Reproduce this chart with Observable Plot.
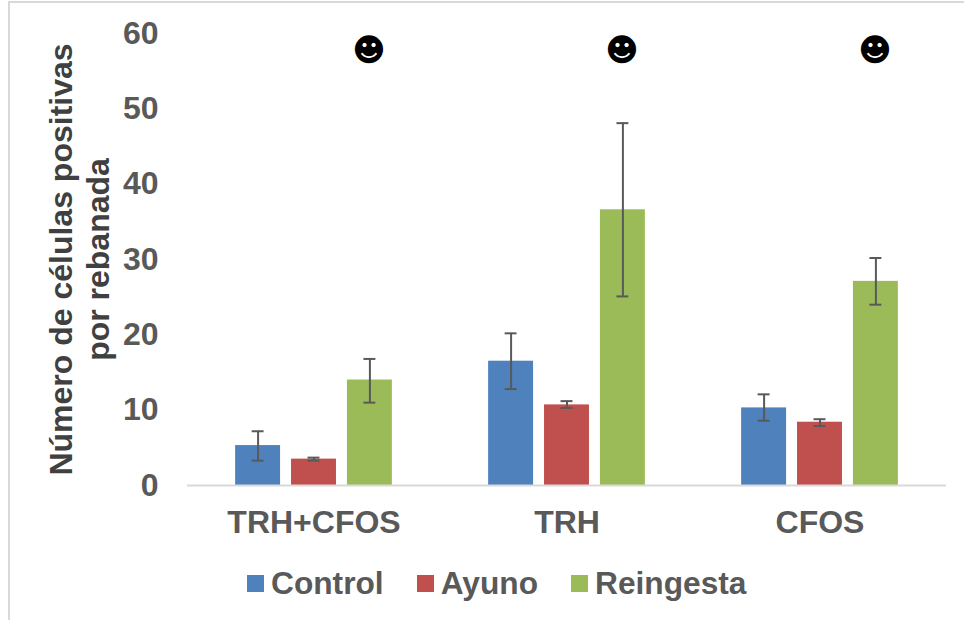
<!DOCTYPE html>
<html>
<head>
<meta charset="utf-8">
<script src="https://cdn.jsdelivr.net/npm/d3@7"></script>
<script src="https://cdn.jsdelivr.net/npm/@observablehq/plot@0.6"></script>
<style>
html, body { margin: 0; padding: 0; background: #fff; }
body { width: 964px; height: 620px; overflow: hidden; position: relative; font-family: "Liberation Sans", Arial, sans-serif; }
#frame { position: absolute; left: 8px; top: 1px; right: -4px; bottom: -4px; border: 2px solid #d9d9d9; pointer-events: none; }
#chart svg { display: block; background: transparent; }
#legend { position: absolute; left: 247px; top: 565px; height: 36px; display: flex; align-items: center; font-size: 31.7px; font-weight: 700; color: #595959; }
#legend .swatch { width: 17px; height: 17px; margin-right: 7px; display: inline-block; }
#legend .item { display: flex; align-items: center; margin-right: 33px; white-space: nowrap; }
</style>
</head>
<body>
<div id="frame"></div>
<div id="chart"></div>
<div id="legend"></div>
<script>
const groups = ["TRH+CFOS", "TRH", "CFOS"];
const series = ["Control", "Ayuno", "Reingesta"];
const colors = ["#4f81bd", "#c0504d", "#9bbb59"];
const control = [5.3, 16.5, 10.3];
const ayuno = [3.5, 10.7, 8.4];
const reingesta = [14, 36.6, 27.1];
const controlHigh = [7.2, 20.2, 12.1];
const controlLow = [3.3, 12.8, 8.6];
const ayunoHigh = [3.7, 11.2, 8.8];
const ayunoLow = [3.3, 10.3, 7.9];
const reingestaHigh = [16.8, 48.1, 30.2];
const reingestaLow = [11, 25.1, 24];
const yTicks = [0, 10, 20, 30, 40, 50, 60];
const smileY = 57.7;
const yTitle = "Número de células positivas\npor rebanada";

const means = [control, ayuno, reingesta];
const highs = [controlHigh, ayunoHigh, reingestaHigh];
const lows = [controlLow, ayunoLow, reingestaLow];
const rows = groups.flatMap((g, i) => series.map((s, j) => ({
  group: g, series: s, value: means[j][i], high: highs[j][i], low: lows[j][i]
})));

const chart = Plot.plot({
  width: 964,
  height: 560,
  marginLeft: 186,
  marginRight: 18,
  marginTop: 33,
  marginBottom: 75,
  style: { fontFamily: "'Liberation Sans', Arial, sans-serif", background: "transparent", overflow: "visible" },
  fx: { domain: groups, padding: 0, label: null, axis: null },
  x: { domain: series, paddingInner: 0.196, paddingOuter: 0.861, round: false, axis: null },
  y: { domain: [0, 60], label: null },
  color: { domain: series, range: colors },
  marks: [
    Plot.barY(rows, { fx: "group", x: "series", y: "value", fill: "series" }),
    Plot.ruleY([0], { stroke: "#d9d9d9", strokeWidth: 2 }),
    Plot.ruleX(rows, { fx: "group", x: "series", y1: "low", y2: "high", stroke: "#595959", strokeWidth: 2 }),
    Plot.tickY(rows, { fx: "group", x: "series", y: "high", stroke: "#595959", strokeWidth: 2, insetLeft: 16.5, insetRight: 16.5 }),
    Plot.tickY(rows, { fx: "group", x: "series", y: "low", stroke: "#595959", strokeWidth: 2, insetLeft: 16.5, insetRight: 16.5 }),
    Plot.text(groups, { fx: d => d, x: () => "Reingesta", y: () => smileY, dx: -1, text: () => "\u263B", fontFamily: "DejaVu Sans", fontSize: 32, fill: "#000" }),
    Plot.axisY({ ticks: yTicks, tickSize: 0, tickPadding: 29, fontSize: 32, fontWeight: 700, fill: "#595959", label: null }),
    Plot.axisFx({ anchor: "bottom", tickSize: 0, tickPadding: 25, fontSize: 32, fontWeight: 700, fill: "#595959", label: null }),
    Plot.text([yTitle], { facet: "super", frameAnchor: "left", dx: -108.5, rotate: -90, textAnchor: "middle", lineAnchor: "middle", lineHeight: 1.16, fontSize: 32, fontWeight: 700, fill: "#404040" })
  ]
});
document.getElementById("chart").append(chart);

const legend = document.getElementById("legend");
series.forEach((s, i) => {
  const item = document.createElement("span");
  item.className = "item";
  const sw = document.createElement("span");
  sw.className = "swatch";
  sw.style.background = colors[i];
  item.append(sw, document.createTextNode(s));
  legend.append(item);
});
</script>
</body>
</html>
